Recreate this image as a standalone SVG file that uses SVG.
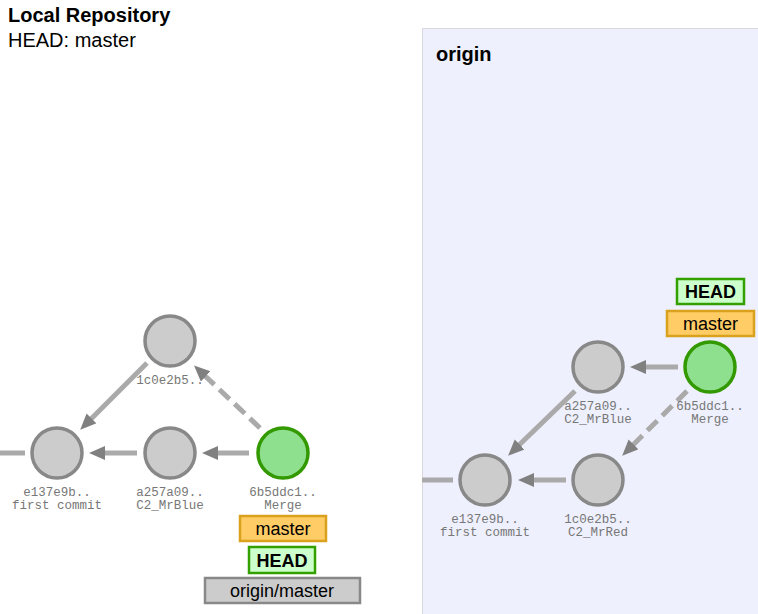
<svg xmlns="http://www.w3.org/2000/svg" width="758" height="614" viewBox="0 0 758 614">
<style>
.title{font-family:"Liberation Sans",Arial,sans-serif;font-size:20px;fill:#000}
.b{font-weight:bold}
.commit{fill:#cccccc;stroke:#888888;stroke-width:3.5}
.merge{fill:#8ee08e;stroke:#339900;stroke-width:3.5}
.lbl{font-family:"Liberation Mono","Courier New",monospace;font-size:12.5px;fill:#777777;text-anchor:middle}
.edge{stroke:#aaaaaa;stroke-width:5;fill:none}
.dash{stroke-dasharray:14,7}
.br{font-family:"Liberation Sans",Arial,sans-serif;font-size:18px;fill:#000;text-anchor:middle}
.bm{fill:#ffcc66;stroke:#d9a11c;stroke-width:2.5}
.bh{fill:#ccffcc;stroke:#33a000;stroke-width:2.5}
.bo{fill:#cccccc;stroke:#888888;stroke-width:2.5}
</style>
<defs>
<marker id="ah" markerUnits="userSpaceOnUse" markerWidth="18" markerHeight="16" refX="5" refY="7" orient="auto">
<path d="M0,0 L16,7 L0,14 z" fill="#808080"/>
</marker>
</defs>
<rect x="0" y="0" width="758" height="614" fill="#ffffff"/>
<text class="title b" x="8" y="22">Local Repository</text>
<text class="title" x="8" y="47">HEAD: master</text>
<g id="origin-panel">
<rect x="422.5" y="28.5" width="340" height="590" fill="#eef0fd" stroke="#bbbbbb" stroke-width="1" stroke-dasharray="1,1"/>
<text class="title b" x="436" y="61">origin</text>
</g>
<g id="connectors">
<line class="edge" x1="0" y1="453" x2="25" y2="453"/>
<line class="edge" x1="137" y1="453" x2="100" y2="453" marker-end="url(#ah)"/>
<line class="edge" x1="249" y1="453" x2="213" y2="453" marker-end="url(#ah)"/>
<line class="edge" x1="147" y1="363" x2="88" y2="422" marker-end="url(#ah)"/>
<line class="edge dash" x1="260" y1="428" x2="202" y2="373" marker-end="url(#ah)"/>
<line class="edge" x1="422" y1="480" x2="453" y2="480"/>
<line class="edge" x1="678" y1="367" x2="641" y2="367" marker-end="url(#ah)"/>
<line class="edge" x1="575" y1="391" x2="516" y2="448" marker-end="url(#ah)"/>
<line class="edge dash" x1="687" y1="391" x2="630" y2="448" marker-end="url(#ah)"/>
<line class="edge" x1="566" y1="480" x2="529" y2="480" marker-end="url(#ah)"/>
</g>
<g id="local-e137e9b">
<circle class="commit" cx="57" cy="453" r="25"/>
<text class="lbl" x="57" y="496">e137e9b..</text>
<text class="lbl" x="57" y="509">first commit</text>
</g>
<g id="local-a257a09">
<circle class="commit" cx="170" cy="453" r="25"/>
<text class="lbl" x="170" y="496">a257a09..</text>
<text class="lbl" x="170" y="509">C2_MrBlue</text>
</g>
<g id="local-1c0e2b5">
<circle class="commit" cx="170" cy="341" r="25"/>
<text class="lbl" x="170" y="384">1c0e2b5..</text>
</g>
<g id="local-6b5ddc1">
<circle class="merge" cx="283" cy="453" r="25"/>
<text class="lbl" x="283" y="496">6b5ddc1..</text>
<text class="lbl" x="283" y="509">Merge</text>
</g>
<g id="local-master">
<rect class="bm" x="240" y="516" width="86" height="25"/>
<text class="br" x="283" y="535">master</text>
</g>
<g id="local-HEAD">
<rect class="bh" x="249" y="547" width="66" height="26"/>
<text class="br b" x="282" y="567">HEAD</text>
</g>
<g id="local-origin-master">
<rect class="bo" x="205" y="578" width="155" height="25"/>
<text class="br" x="282" y="597">origin/master</text>
</g>
<g id="origin-e137e9b">
<circle class="commit" cx="485" cy="480" r="25"/>
<text class="lbl" x="485" y="523">e137e9b..</text>
<text class="lbl" x="485" y="536">first commit</text>
</g>
<g id="origin-1c0e2b5">
<circle class="commit" cx="598" cy="480" r="25"/>
<text class="lbl" x="598" y="523">1c0e2b5..</text>
<text class="lbl" x="598" y="536">C2_MrRed</text>
</g>
<g id="origin-a257a09">
<circle class="commit" cx="598" cy="367" r="25"/>
<text class="lbl" x="598" y="410">a257a09..</text>
<text class="lbl" x="598" y="423">C2_MrBlue</text>
</g>
<g id="origin-6b5ddc1">
<circle class="merge" cx="710" cy="367" r="25"/>
<text class="lbl" x="710" y="410">6b5ddc1..</text>
<text class="lbl" x="710" y="423">Merge</text>
</g>
<g id="origin-HEAD">
<rect class="bh" x="677" y="279" width="67" height="25"/>
<text class="br b" x="710.5" y="298">HEAD</text>
</g>
<g id="origin-master">
<rect class="bm" x="667" y="311" width="87" height="25"/>
<text class="br" x="710.5" y="330">master</text>
</g>
</svg>
